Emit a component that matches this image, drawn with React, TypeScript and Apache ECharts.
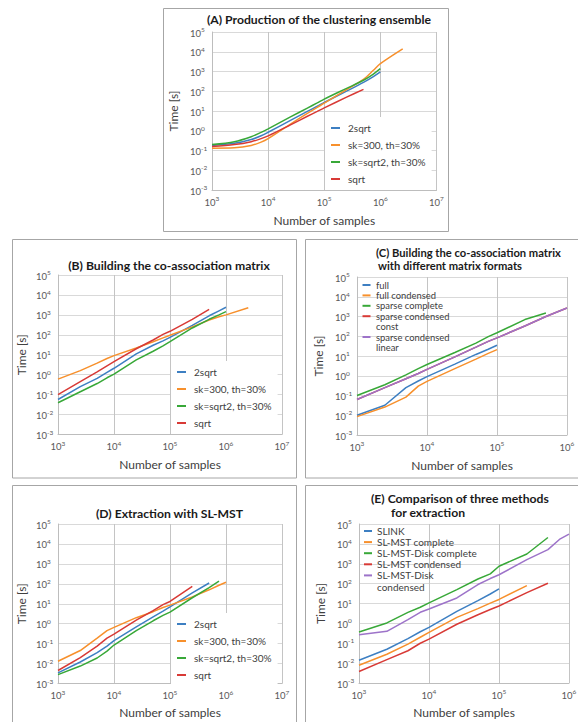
import React, { useEffect, useRef } from 'react';
import * as echarts from 'echarts';

// Sample sizes (x values shared by all panels)
const XS = [1000, 2500, 5000, 7500, 10000, 25000, 50000, 75000, 100000, 250000, 500000, 750000, 1000000, 2500000];

// Axis range
const Y_MIN = 0.001;
const Y_MAX = 100000;

// (A) Production of the clustering ensemble
const A_NAMES = ['2sqrt', 'sk=300, th=30%', 'sk=sqrt2, th=30%', 'sqrt'];
const A_2SQRT = [0.18, 0.23, 0.36, 0.56, 0.84, 3.37, 9.5, 17.4, 27, 102, 280, 550, 950];
const A_SK300 = [0.13, 0.136, 0.18, 0.265, 0.4, 2.18, 7.6, 15.4, 24.8, 120, 400, 1150, 2500, 14000];
const A_SKSQRT2 = [0.2, 0.28, 0.5, 0.83, 1.25, 5, 14, 25.6, 40, 140, 360, 745, 1400];
const A_SQRT = [0.16, 0.2, 0.28, 0.4, 0.55, 2, 5.4, 9.6, 14.5, 50, 125];

// (B) Building the co-association matrix
const B_2SQRT = [0.057, 0.25, 0.65, 1.3, 2.1, 11, 30, 50, 75, 300, 900, 1600, 2400];
const B_SK300 = [0.6, 1.6, 3.8, 6.5, 9, 22, 45, 70, 95, 250, 550, 800, 1000, 2300];
const B_SKSQRT2 = [0.039, 0.14, 0.36, 0.7, 1.07, 5.5, 15, 28, 45, 220, 600, 1000, 1450];
const B_SQRT = [0.1, 0.45, 1.4, 2.8, 4.5, 20, 55, 105, 150, 600, 1900];

// (C) Building the co-association matrix with different matrix formats
const C_NAMES = ['full', 'full condensed', 'sparse complete', 'sparse condensed\nconst', 'sparse condensed\nlinear'];
const C_FULL = [0.01, 0.032, 0.25, 0.54, 0.9, 3.9, 12, 22, 35];
const C_FULL_COND = [0.0085, 0.026, 0.083, 0.3, 0.52, 2.3, 6.9, 13.5, 21];
const C_SPARSE_COMPLETE = [0.1, 0.35, 1.1, 2.3, 3.7, 15, 45, 95, 150, 700, 1500];
const C_SPARSE_COND_CONST = [0.063, 0.25, 0.7, 1.3, 2.1, 9, 28, 55, 83, 330, 1000, 1800, 2700];
const C_SPARSE_COND_LINEAR = [0.063, 0.25, 0.7, 1.3, 2.1, 9, 28, 55, 83, 330, 1000, 1800, 2700];

// (D) Extraction with SL-MST
const D_2SQRT = [0.0034, 0.012, 0.035, 0.075, 0.14, 0.7, 2.2, 4.3, 7, 35, 110];
const D_SK300 = [0.013, 0.045, 0.19, 0.45, 0.65, 2, 4, 6.5, 8.5, 22, 50, 85, 120];
const D_SKSQRT2 = [0.0028, 0.0075, 0.019, 0.042, 0.085, 0.45, 1.4, 2.6, 3.8, 20, 65, 135];
const D_SQRT = [0.0045, 0.02, 0.075, 0.19, 0.3, 1.5, 4.5, 9, 13, 75];

// (E) Comparison of three methods for extraction
const E_NAMES = ['SLINK', 'SL-MST complete', 'SL-MST-Disk complete', 'SL-MST condensed', 'SL-MST-Disk\ncondensed'];
const E_SLINK = [0.014, 0.05, 0.17, 0.38, 0.63, 4, 14, 30, 55];
const E_MST_COMPLETE = [0.0078, 0.028, 0.09, 0.2, 0.35, 2, 5.5, 10.5, 16, 80];
const E_DISK_COMPLETE = [0.37, 1.05, 3.6, 6.5, 10.7, 50, 170, 310, 750, 3100, 21000];
const E_MST_COND = [0.0038, 0.015, 0.042, 0.1, 0.16, 0.9, 2.7, 5, 7.5, 35, 105];
const E_DISK_COND = [0.27, 0.4, 1.55, 3.6, 5.3, 19, 90, 180, 280, 1600, 5100, 18000, 31000];

const BLUE = '#3d7fc2';
const ORANGE = '#f7902c';
const GREEN = '#38a838';
const RED = '#d83a36';
const PURPLE = '#9d73c9';

const FONT = 'Lato, "DejaVu Sans", sans-serif';
const LABEL_COLOR = '#595959';

const powFmt = (v: number) => {
  const n = Math.round(Math.log10(v));
  return '{b|10}{s|' + n + '}';
};
const rich = {
  b: { fontSize: 9.5, color: LABEL_COLOR, fontFamily: FONT, lineHeight: 12, verticalAlign: 'bottom' },
  s: { fontSize: 6.5, color: LABEL_COLOR, fontFamily: FONT, lineHeight: 7, verticalAlign: 'top' },
};

function xAxisCfg(gi: number, max: number, gap: number) {
  return {
    type: 'log', logBase: 10, gridIndex: gi, min: 1000, max, interval: 1,
    axisLine: { show: true, lineStyle: { color: '#bdbdbd', width: 1 } },
    axisTick: { show: false },
    splitLine: { show: true, lineStyle: { color: '#c4c4c4', width: 1 } },
    minorTick: { show: false }, minorSplitLine: { show: false },
    axisLabel: { formatter: powFmt, rich, margin: 5 },
    name: 'Number of samples', nameLocation: 'middle', nameGap: gap,
    nameTextStyle: { fontSize: 12, color: '#404040', fontFamily: FONT },
  };
}
function yAxisCfg(gi: number, gap: number) {
  return {
    type: 'log', logBase: 10, gridIndex: gi, min: Y_MIN, max: Y_MAX, interval: 1,
    axisLine: { show: true, lineStyle: { color: '#bdbdbd', width: 1 } },
    axisTick: { show: false },
    splitLine: { show: true, lineStyle: { color: '#d9d9d9', width: 1 } },
    minorTick: { show: false }, minorSplitLine: { show: false },
    axisLabel: { formatter: powFmt, rich, margin: 22, align: 'left' },
    name: 'Time [s]', nameLocation: 'middle', nameGap: gap,
    nameTextStyle: { fontSize: 12, color: '#404040', fontFamily: FONT },
  };
}

function mk(name: string, ys: number[], color: string, idx: number, smooth: number | boolean = false) {
  return {
    type: 'line', name, xAxisIndex: idx, yAxisIndex: idx,
    data: ys.map((y, i) => [XS[i], y]),
    symbol: 'none', showSymbol: false, smooth, silent: true,
    lineStyle: { color, width: 1.5 }, itemStyle: { color }, color,
  };
}

function legendCfg(left: number, top: number) {
  return {
    data: A_NAMES, orient: 'vertical', left, top,
    backgroundColor: '#ffffff', padding: [5, 6, 5, 6],
    icon: 'rect', itemWidth: 9, itemHeight: 2, itemGap: 5,
    textStyle: { fontSize: 10, color: '#404040', fontFamily: FONT, lineHeight: 12, padding: [0, 0, 0, 3] },
    selectedMode: false,
  };
}

function graphicLegend(names: string[], colors: string[], iconX: number, textX: number, y0: number, step: number, fs: number) {
  const els: any[] = [];
  let y = y0;
  names.forEach((nm, i) => {
    els.push({ type: 'line', shape: { x1: iconX, y1: y, x2: iconX + 8, y2: y }, style: { stroke: colors[i], lineWidth: 2 }, z: 100 });
    nm.split('\n').forEach((line) => {
      els.push({ type: 'text', x: textX, y, style: { text: line, fill: '#404040', font: fs + 'px ' + FONT, textAlign: 'left', textVerticalAlign: 'middle' }, z: 100 });
      y += step;
    });
  });
  return els;
}

function titleText(text: string, x: number, y: number, align: string, size = 12.2) {
  return { type: 'text', x, y, style: { text, fill: '#1a1a1a', font: 'bold ' + size + 'px ' + FONT, textAlign: align, textVerticalAlign: 'middle' }, z: 100 };
}
function box(x: number, y: number, w: number, h: number) {
  return { type: 'rect', shape: { x, y, width: w, height: h }, style: { fill: 'none', stroke: '#a6a6a6', lineWidth: 1 }, z: -1, silent: true };
}

export default function App() {
  const ref = useRef<HTMLDivElement>(null);
  useEffect(() => {
    if (!ref.current) return;
    const chart = echarts.init(ref.current, undefined, { renderer: 'svg' });
    const option: any = {
      animation: false,
      backgroundColor: '#ffffff',
      textStyle: { fontFamily: FONT },
      grid: [
        { left: 212, top: 32, width: 224.5, height: 158, containLabel: false, outerBoundsMode: 'none' },
        { left: 58, top: 275, width: 224, height: 159.5, containLabel: false, outerBoundsMode: 'none' },
        { left: 357, top: 277, width: 210, height: 158, containLabel: false, outerBoundsMode: 'none' },
        { left: 58, top: 524, width: 224, height: 159.5, containLabel: false, outerBoundsMode: 'none' },
        { left: 359, top: 524, width: 210, height: 159, containLabel: false, outerBoundsMode: 'none' },
      ],
      xAxis: [
        xAxisCfg(0, 10000000, 24),
        xAxisCfg(1, 10000000, 24),
        xAxisCfg(2, 1000000, 24),
        xAxisCfg(3, 10000000, 23),
        xAxisCfg(4, 1000000, 23),
      ],
      yAxis: [yAxisCfg(0, 33), yAxisCfg(1, 31), yAxisCfg(2, 33), yAxisCfg(3, 31), yAxisCfg(4, 33)],
      legend: [legendCfg(325, 117), legendCfg(171, 361), legendCfg(171, 613)],
      series: [
        mk(A_NAMES[0], A_2SQRT, BLUE, 0, 0.3),
        mk(A_NAMES[1], A_SK300, ORANGE, 0, 0.3),
        mk(A_NAMES[2], A_SKSQRT2, GREEN, 0, 0.3),
        mk(A_NAMES[3], A_SQRT, RED, 0, 0.3),
        mk(A_NAMES[0], B_2SQRT, BLUE, 1),
        mk(A_NAMES[1], B_SK300, ORANGE, 1),
        mk(A_NAMES[2], B_SKSQRT2, GREEN, 1),
        mk(A_NAMES[3], B_SQRT, RED, 1),
        mk(C_NAMES[0], C_FULL, BLUE, 2),
        mk(C_NAMES[1], C_FULL_COND, ORANGE, 2),
        mk(C_NAMES[2], C_SPARSE_COMPLETE, GREEN, 2),
        mk(C_NAMES[3], C_SPARSE_COND_CONST, RED, 2),
        mk(C_NAMES[4], C_SPARSE_COND_LINEAR, PURPLE, 2),
        mk(A_NAMES[0], D_2SQRT, BLUE, 3),
        mk(A_NAMES[1], D_SK300, ORANGE, 3),
        mk(A_NAMES[2], D_SKSQRT2, GREEN, 3),
        mk(A_NAMES[3], D_SQRT, RED, 3),
        mk(E_NAMES[0], E_SLINK, BLUE, 4),
        mk(E_NAMES[1], E_MST_COMPLETE, ORANGE, 4),
        mk(E_NAMES[2], E_DISK_COMPLETE, GREEN, 4),
        mk(E_NAMES[3], E_MST_COND, RED, 4),
        mk(E_NAMES[4], E_DISK_COND, PURPLE, 4),
      ],
      graphic: [
        box(163.5, 8.5, 285, 223),
        box(12.5, 239.5, 284, 238.5),
        box(305.5, 239.5, 280, 238.5),
        box(12.5, 485.5, 284, 250),
        box(305.5, 485.5, 280, 250),
        titleText('(A) Production of the clustering ensemble', 319, 19, 'center'),
        titleText('(B) Building the co-association matrix', 169, 265, 'center'),
        titleText('(C) Building the co-association matrix', 376, 252, 'left', 11.2),
        titleText('with different matrix formats', 378, 265.5, 'left', 11.2),
        titleText('(D) Extraction with SL-MST', 169.5, 513, 'center'),
        titleText('(E) Comparison of three methods', 371, 498, 'left'),
        titleText('for extraction', 391, 512, 'left'),
        ...graphicLegend(C_NAMES, [BLUE, ORANGE, GREEN, RED, PURPLE], 362.5, 376, 285, 10.4, 9.4),
        ...graphicLegend(E_NAMES, [BLUE, ORANGE, GREEN, RED, PURPLE], 364, 377, 531, 11.1, 10),
      ],
    };
    chart.setOption(option);
    return () => chart.dispose();
  }, []);
  return <div ref={ref} style={{ position: 'absolute', left: 0, top: 0, width: 578, height: 722 }} />;
}
